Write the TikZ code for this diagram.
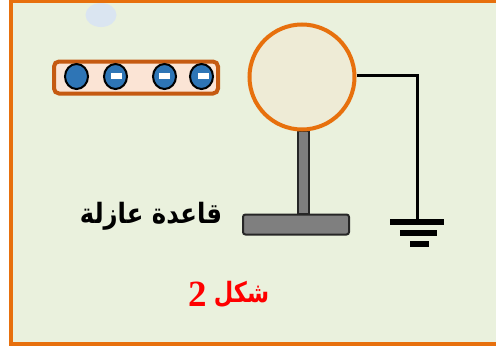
\documentclass[tikz,border=0pt]{standalone}
\usepackage{fontspec}
\usepackage{tikz}
\usetikzlibrary{shapes.geometric}
\TeXXeTstate=1
\newfontfamily\arabicfont[Script=Arabic]{DejaVu Sans}
\newfontfamily\digitfont{Liberation Serif}
\definecolor{framecol}{HTML}{E7700D}
\definecolor{panelcol}{HTML}{EAF1DD}
\definecolor{rodcol}{HTML}{C55A11}
\definecolor{rodfill}{HTML}{FBE4D5}
\definecolor{chargecol}{HTML}{2E75B6}
\definecolor{ghostcol}{HTML}{DAE5F1}
\definecolor{ballfill}{HTML}{EEEBD6}
\definecolor{basecol}{HTML}{7F7F7F}
\tikzset{
    charge/.style={ellipse, draw=black, fill=chargecol, line width=2pt, minimum width=23pt, minimum height=25pt, inner sep=0pt},
    minus/.style={fill=white, minimum width=11pt, minimum height=6.5pt, inner sep=0pt},
    support/.style={draw=black!85, fill=basecol, line width=2pt, inner sep=0pt},
    earth/.style={draw=black, line width=3pt},
    plate/.style={fill=black, minimum height=5.5pt, inner sep=0pt},
    caption/.style={font=\arabicfont\bfseries\fontsize{28}{32}\selectfont, xscale=0.87},
}
\begin{document}
\begin{tikzpicture}[x=1pt, y=-1pt]
    \useasboundingbox (0,0) rectangle (496,351);
    \draw[draw=framecol, fill=panelcol, line width=4pt] (11,1) rectangle (500,344);
    \node[ellipse, fill=ghostcol, minimum width=31pt, minimum height=24pt, inner sep=0pt] (ghost) at (101,15) {};
    % charged rod
    \node[draw=rodcol, fill=rodfill, line width=4pt, rounded corners=5pt, minimum width=164pt, minimum height=32pt, inner sep=0pt] (rod) at (136,77.5) {};
    \node[charge] (q1) at (76.5,76.5) {};
    \node[charge] (q2) at (115.5,76.5) {};
    \node[charge] (q3) at (164.5,76.5) {};
    \node[charge] (q4) at (201.5,76.5) {};
    \node[minus] (m2) at (116.7,76) {};
    \node[minus] (m3) at (164.7,76) {};
    \node[minus] (m4) at (203,76) {};
    % electroscope
    \node[support, minimum width=11pt, minimum height=83pt] (stem) at (303.3,172) {};
    \node[support, rounded corners=2.5pt, minimum width=106pt, minimum height=20pt] (base) at (296,224.5) {};
    \node[circle, draw=framecol, fill=ballfill, line width=4pt, minimum width=105pt, inner sep=0pt] (ball) at (302,77) {};
    % earth wire
    \coordinate (corner) at (417.7,75);
    \node[plate, minimum width=53.5pt] (g1) at (417,222) {};
    \node[plate, minimum width=37pt] (g2) at (418.5,233) {};
    \node[plate, minimum width=19.5pt] (g3) at (419.3,244) {};
    \draw[earth] (ball.east |- corner) -- (corner) -- (g1.north -| corner);
    % labels
    \node[caption] (lbl) at (151,216) {\beginR قاعدة عازلة\endR};
    \node[caption, xscale=0.92, text=red] (fig) at (241.5,294) {\beginR شكل\endR};
    \node[font=\digitfont\bfseries\fontsize{37}{40}\selectfont, text=red, inner sep=0pt] (fignum) at (197.5,294.5) {2};
\end{tikzpicture}
\end{document}
